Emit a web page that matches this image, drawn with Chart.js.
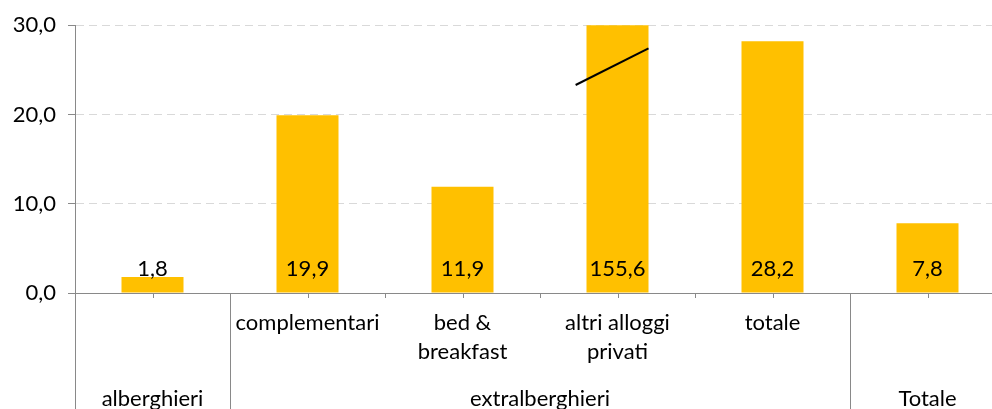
<!DOCTYPE html>
<html lang="it">
  <head>
    <meta charset="UTF-8" />
    <title>Variazione presenze per tipo di esercizio</title>
    <script src="https://cdn.jsdelivr.net/npm/chart.js"></script>
    <style>
      body { margin: 0; overflow: hidden; background: #fff; }
      canvas { display: block; }
    </style>
  </head>
  <body>
    <canvas id="chart" width="1005" height="409"></canvas>

    <script>
      // categorie (riga alta dell'asse) e gruppi (riga bassa)
      const categories = ["", "complementari", ["bed &", "breakfast"], ["altri alloggi", "privati"], "totale", ""];
      const values = [1.8, 19.9, 11.9, 155.6, 28.2, 7.8];
      const groups = ["alberghieri", "extralberghieri", "Totale"];
      const groupFirst = [0, 1, 5];
      const groupLast = [0, 4, 5];
      const yTicks = [0, 10, 20, 30];

      const FONT = "Lato, 'Open Sans', sans-serif";
      const AXIS = "#898989";
      const fmt = (v) => v.toFixed(1).replace(".", ",");

      const extras = {
        id: "extras",
        afterDatasetsDraw(chart) {
          const { ctx, scales: { x, y } } = chart;
          const meta = chart.getDatasetMeta(0);
          const base = y.getPixelForValue(0);
          ctx.save();
          ctx.fillStyle = "#000";
          ctx.font = "22px " + FONT;
          ctx.textAlign = "center";
          ctx.textBaseline = "middle";
          meta.data.forEach((bar, i) => {
            ctx.fillText(fmt(values[i]), bar.x, base - 24);
          });

          // segno di interruzione sulla barra fuori scala
          const step = x.getPixelForValue(1) - x.getPixelForValue(0);
          const cx = x.getPixelForValue(3);
          ctx.strokeStyle = "#000";
          ctx.lineWidth = 2;
          ctx.beginPath();
          ctx.moveTo(cx - 0.27 * step, y.getPixelForValue(23.3));
          ctx.lineTo(cx + 0.2 * step, y.getPixelForValue(27.4));
          ctx.stroke();
          ctx.restore();
        },
        afterDraw(chart) {
          const { ctx, scales: { x, y }, chartArea } = chart;
          const step = x.getPixelForValue(1) - x.getPixelForValue(0);
          const bottom = chart.height;
          const axisY = chartArea.bottom;
          ctx.save();
          ctx.strokeStyle = AXIS;
          ctx.lineWidth = 1;
          ctx.beginPath();
          // tacche brevi: centri e confini di categoria
          categories.forEach((c, i) => {
            const cx = Math.round(x.getPixelForValue(i)) + 0.5;
            ctx.moveTo(cx, axisY);
            ctx.lineTo(cx, axisY + 5);
            const bx = Math.round(x.getPixelForValue(i) + step / 2) + 0.5;
            ctx.moveTo(bx, axisY);
            ctx.lineTo(bx, axisY + 5);
          });
          // separatori dei gruppi
          groups.forEach((g, k) => {
            const sx = Math.round(x.getPixelForValue(groupFirst[k]) - step / 2) + 0.5;
            ctx.moveTo(sx, axisY);
            ctx.lineTo(sx, bottom);
          });
          ctx.stroke();

          ctx.fillStyle = "#000";
          ctx.font = "22px " + FONT;
          ctx.textAlign = "center";
          ctx.textBaseline = "middle";
          groups.forEach((g, k) => {
            const mid = (x.getPixelForValue(groupFirst[k]) + x.getPixelForValue(groupLast[k])) / 2;
            ctx.fillText(g, mid, 399);
          });
          ctx.restore();
        },
      };

      new Chart(document.getElementById("chart"), {
        type: "bar",
        data: {
          labels: categories,
          datasets: [
            {
              data: values,
              backgroundColor: "#FFC000",
              barPercentage: 0.4,
              categoryPercentage: 1,
            },
          ],
        },
        options: {
          responsive: false,
          animation: false,
          layout: { padding: { top: 24, left: 0, right: 0, bottom: 0 } },
          plugins: { legend: { display: false }, tooltip: { enabled: false } },
          scales: {
            x: {
              grid: { display: false, drawTicks: false },
              border: { display: true, color: AXIS, width: 1 },
              ticks: {
                color: "#000",
                padding: 15,
                maxRotation: 0,
                autoSkip: false,
                font: { family: FONT, size: 22, lineHeight: 1.32 },
              },
              afterFit(scale) {
                scale.height = 116;
              },
            },
            y: {
              min: 0,
              max: 30,
              afterBuildTicks(scale) {
                scale.ticks = yTicks.map((v) => ({ value: v }));
              },
              grid: {
                color: (c) => (c.tick && c.tick.value === 0 ? "rgba(0,0,0,0)" : "#d9d9d9"),
                tickColor: AXIS,
                tickLength: 7,
              },
              border: { display: true, color: AXIS, width: 1, dash: [8, 5] },
              ticks: {
                color: "#000",
                padding: 12,
                font: { family: FONT, size: 22 },
                callback: (v) => fmt(v),
              },
              afterFit(scale) {
                scale.width = 75;
              },
            },
          },
        },
        plugins: [extras],
      });
    </script>
  </body>
</html>
